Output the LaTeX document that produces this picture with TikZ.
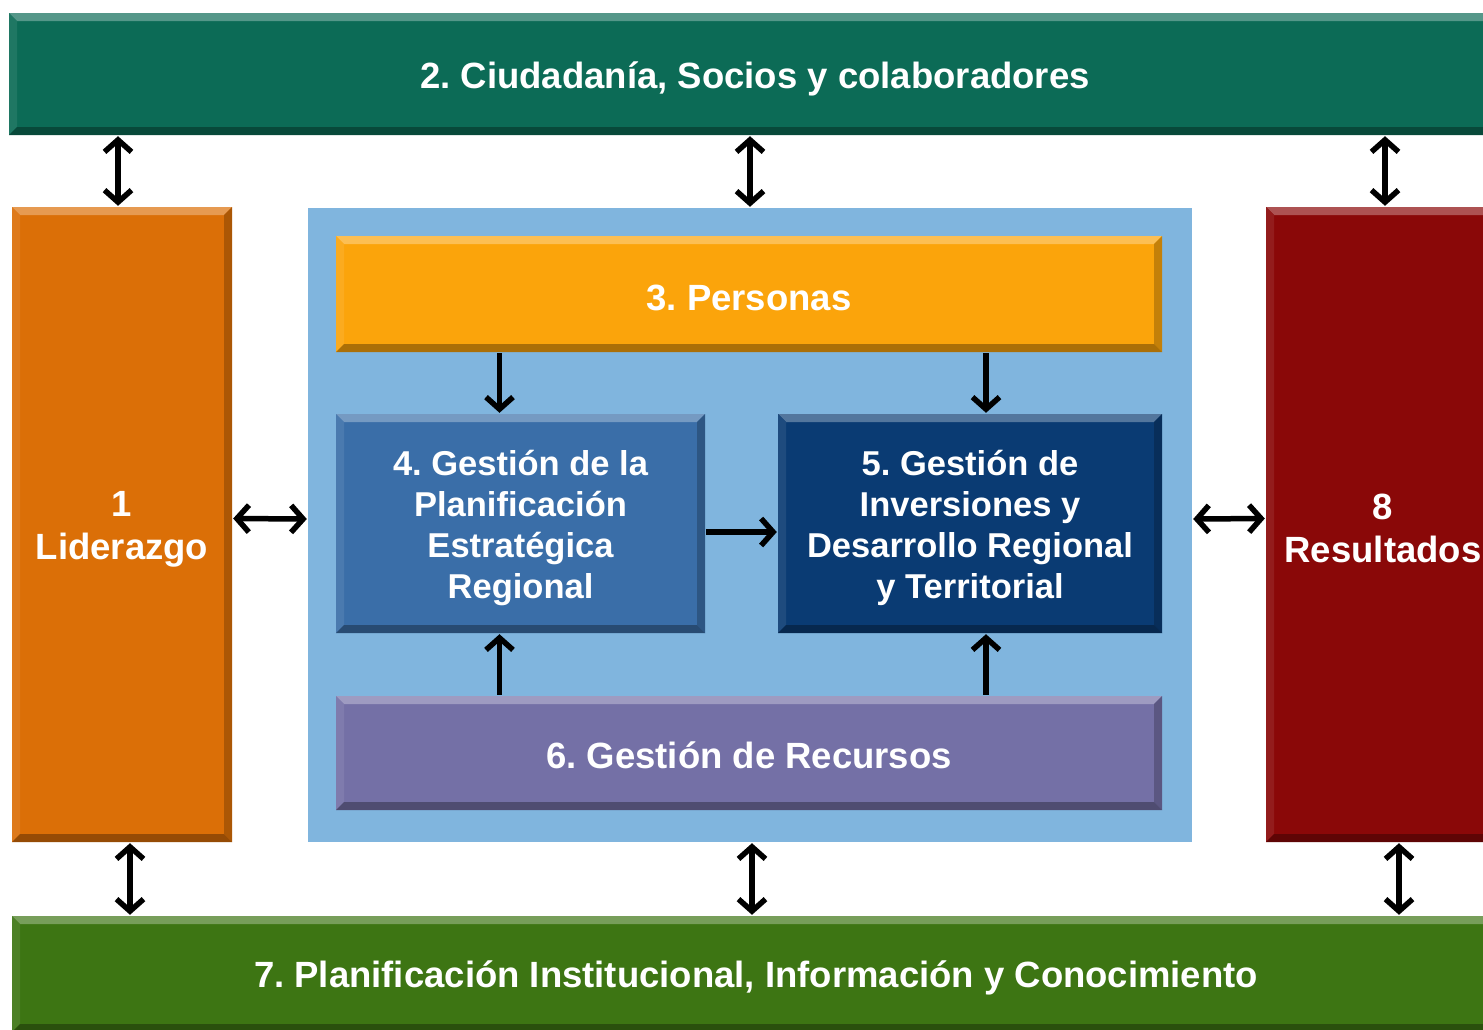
\documentclass[tikz,border=0pt]{standalone}
\usepackage{fontspec}
\setmainfont{Liberation Sans}
\usetikzlibrary{arrows.meta}
\frenchspacing
\definecolor{cTop}{HTML}{0C6B56}
\definecolor{cLid}{HTML}{DB6F07}
\definecolor{cPanel}{HTML}{80B5DE}
\definecolor{cPers}{HTML}{FBA40B}
\definecolor{cFour}{HTML}{3A6EA8}
\definecolor{cFive}{HTML}{0A3B73}
\definecolor{cSix}{HTML}{7470A6}
\definecolor{cRes}{HTML}{8A0808}
\definecolor{cBot}{HTML}{3D7513}
\tikzset{
  bevel/.style={path picture={
    \fill[#1!70!white] (path picture bounding box.north west) -- (path picture bounding box.north east)
      -- ([shift={(-8pt,-8pt)}]path picture bounding box.north east) -- ([shift={(8pt,-8pt)}]path picture bounding box.north west) -- cycle;
    \fill[#1!92!white] (path picture bounding box.north west) -- ([shift={(8pt,-8pt)}]path picture bounding box.north west)
      -- ([shift={(8pt,8pt)}]path picture bounding box.south west) -- (path picture bounding box.south west) -- cycle;
    \fill[#1!78!black] (path picture bounding box.north east) -- ([shift={(-8pt,-8pt)}]path picture bounding box.north east)
      -- ([shift={(-8pt,8pt)}]path picture bounding box.south east) -- (path picture bounding box.south east) -- cycle;
    \fill[#1!68!black] (path picture bounding box.south west) -- ([shift={(8pt,8pt)}]path picture bounding box.south west)
      -- ([shift={(-8pt,8pt)}]path picture bounding box.south east) -- (path picture bounding box.south east) -- cycle;
  }},
  box/.style={fill=#1, bevel=#1, inner sep=0pt},
  txt/.style={text=white, inner sep=0pt, align=center, font=\bfseries\fontsize{36.5}{43}\selectfont},
  intxt/.style={txt, font=\bfseries\fontsize{34.5}{41}\selectfont},
  tip/.tip={Straight Barb[length=12pt,width=27pt]},
  dbl/.style={tip-tip, line width=5.5pt, shorten >=1pt, shorten <=1pt},
  one/.style={-tip, line width=5.5pt, shorten >=1pt, shorten <=1pt},
}
\begin{document}
\begin{tikzpicture}[x=1pt,y=-1pt]
\useasboundingbox[fill=white] (0,0) rectangle (1483,1029);
\node[box=cTop, minimum width=1492pt, minimum height=122pt] (citi) at (755,74) {};
\node[txt] (citiT) at ([yshift=-5pt]citi.center) {2. Ciudadanía, Socios y colaboradores};
\node[box=cLid, minimum width=220pt, minimum height=635pt] (lid) at (122,524.5) {};
\node[txt] (lidT) at ([yshift=-5pt]lid.center) {1\\Liderazgo};
\node[fill=cPanel, minimum width=884pt, minimum height=634pt, inner sep=0pt] (panel) at (750,525) {};
\node[box=cPers, minimum width=826pt, minimum height=116pt] (pers) at (749,294) {};
\node[txt] (persT) at ([yshift=-4pt]pers.center) {3. Personas};
\node[box=cFour, minimum width=369pt, minimum height=219pt] (four) at (520.5,523.5) {};
\node[intxt] (fourT) at ([yshift=-4pt]four.center) {4. Gestión de la\\Planificación\\Estratégica\\Regional};
\node[box=cFive, minimum width=384pt, minimum height=219pt] (five) at (970,523.5) {};
\node[intxt] (fiveT) at ([yshift=-4pt]five.center) {5. Gestión de\\Inversiones y\\Desarrollo Regional\\y Territorial};
\node[box=cSix, minimum width=826pt, minimum height=114pt] (six) at (749,753) {};
\node[txt] (sixT) at ([yshift=-2pt]six.center) {6. Gestión de Recursos};
\node[box=cRes, minimum width=234pt, minimum height=635pt] (res) at (1383,524.5) {};
\node[txt] (resT) at ([yshift=-4pt]res.center) {8\\Resultados};
\node[box=cBot, minimum width=1488pt, minimum height=116pt] (plan) at (756,974) {};
\node[txt] (planT) at ([yshift=-4pt]plan.center) {7. Planificación Institucional, Información y Conocimiento};
% vertical double arrows (top)
\draw[dbl] ([xshift=-4pt]lid.north) -- ([xshift=-4pt]lid.north |- citi.south);
\draw[dbl] (panel.north) -- (panel.north |- citi.south);
\draw[dbl] ([xshift=2pt]res.north) -- ([xshift=2pt]res.north |- citi.south);
% vertical double arrows (bottom)
\draw[dbl] ([xshift=8pt]lid.south) -- ([xshift=8pt]lid.south |- plan.north);
\draw[dbl] ([xshift=2pt]panel.south) -- ([xshift=2pt]panel.south |- plan.north);
\draw[dbl] ([xshift=16pt]res.south) -- ([xshift=16pt]res.south |- plan.north);
% horizontal double arrows
\draw[dbl] ([yshift=6pt]lid.east) -- ([yshift=6pt]panel.west);
\draw[dbl] ([yshift=6pt]panel.east) -- ([yshift=6pt]res.west);
% inner arrows
\draw[one] ([xshift=-21pt]four.north |- pers.south) -- ([xshift=-21pt]four.north);
\draw[one] ([xshift=16pt]five.north |- pers.south) -- ([xshift=16pt]five.north);
\draw[one] ([xshift=-21pt]four.south |- six.north) -- ([xshift=-21pt]four.south);
\draw[one] ([xshift=16pt]five.south |- six.north) -- ([xshift=16pt]five.south);
\draw[one] ([yshift=-8.5pt]four.east) -- ([yshift=-8.5pt]five.west);
\end{tikzpicture}
\end{document}
